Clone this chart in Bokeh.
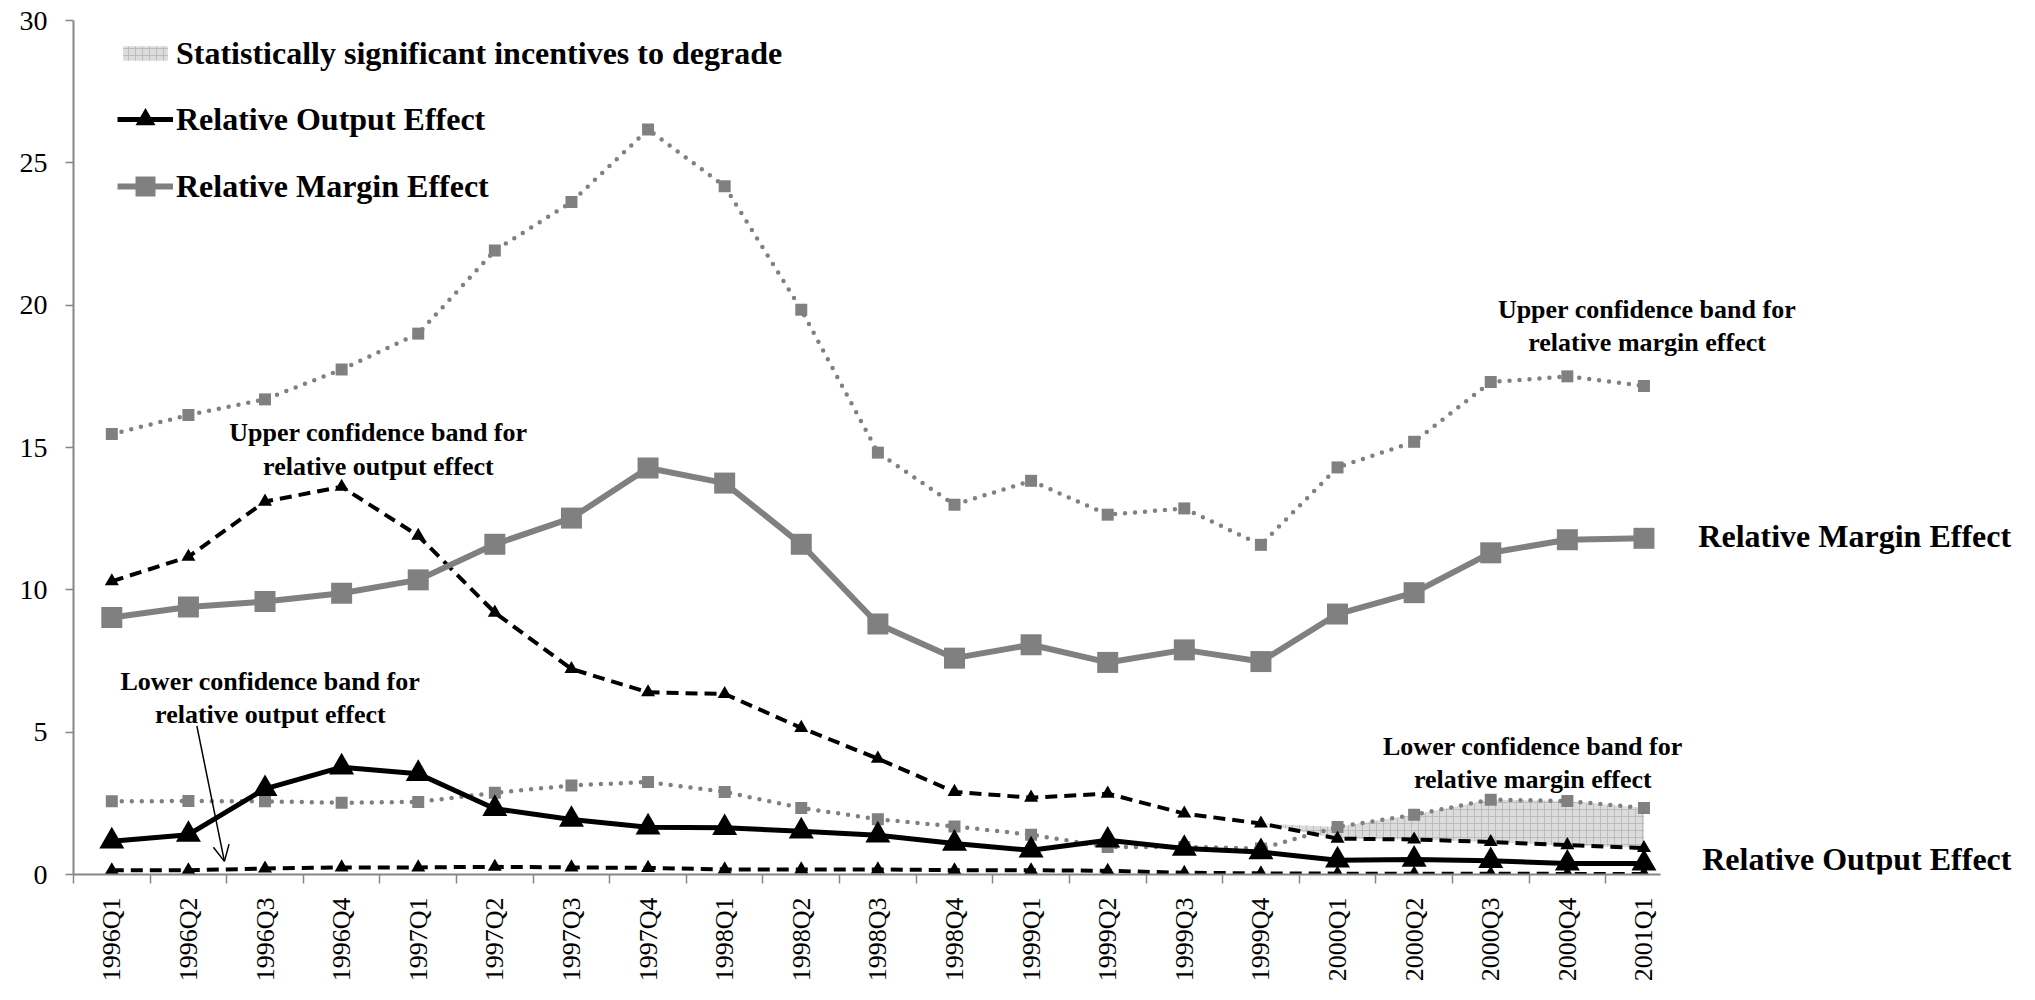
import math
from bokeh.plotting import figure
from bokeh.models import (Range1d, FixedTicker, Legend, LegendItem, Label,
                          Arrow, OpenHead)
from bokeh.embed import file_html
from bokeh.resources import INLINE

quarters = ["1996Q1", "1996Q2", "1996Q3", "1996Q4", "1997Q1", "1997Q2", "1997Q3",
            "1997Q4", "1998Q1", "1998Q2", "1998Q3", "1998Q4", "1999Q1", "1999Q2",
            "1999Q3", "1999Q4", "2000Q1", "2000Q2", "2000Q3", "2000Q4", "2001Q1"]

output_effect = [1.17, 1.40, 3.01, 3.77, 3.54, 2.31, 1.93, 1.66, 1.64, 1.52, 1.38,
                 1.09, 0.85, 1.20, 0.91, 0.79, 0.50, 0.53, 0.48, 0.39, 0.39]
margin_effect = [9.03, 9.40, 9.59, 9.88, 10.35, 11.60, 12.52, 14.28, 13.75, 11.60, 8.80,
                 7.60, 8.07, 7.45, 7.89, 7.48, 9.15, 9.90, 11.30, 11.76, 11.81]
upper_output = [10.30, 11.16, 13.10, 13.62, 11.90, 9.20, 7.22, 6.40, 6.34, 5.15, 4.07,
                2.90, 2.70, 2.84, 2.14, 1.79, 1.26, 1.23, 1.14, 1.03, 0.93]
lower_output = [0.15, 0.15, 0.21, 0.25, 0.25, 0.27, 0.25, 0.23, 0.18, 0.18, 0.18,
                0.15, 0.15, 0.13, 0.06, 0.04, 0.03, 0.03, 0.03, 0.02, 0.02]
upper_margin = [15.47, 16.14, 16.69, 17.74, 19.00, 21.92, 23.62, 26.17, 24.18, 19.84, 14.82,
                12.99, 13.83, 12.64, 12.86, 11.58, 14.30, 15.20, 17.30, 17.50, 17.16]
lower_margin = [2.57, 2.58, 2.57, 2.52, 2.55, 2.87, 3.13, 3.25, 2.90, 2.34, 1.94,
                1.69, 1.40, 0.97, 0.97, 0.91, 1.67, 2.10, 2.63, 2.58, 2.34]
y_ticks = [0, 5, 10, 15, 20, 25, 30]

GRAY = "#808080"
AXIS = "#868686"
SERIF = "Liberation Serif"

x = list(range(len(quarters)))
# significant where lower margin band lies above the upper output band
sig_top = [max(a, b) for a, b in zip(lower_margin, upper_output)]

p = figure(width=2019, height=984, output_backend="svg", toolbar_location=None,
           x_range=Range1d(-0.5, 24.85), y_range=Range1d(0, 30),
           min_border_left=73, min_border_right=4, min_border_top=20,
           min_border_bottom=108)
p.outline_line_color = None
p.xgrid.grid_line_color = None
p.ygrid.grid_line_color = None

# axes
xa = p.xaxis[0]
xa.bounds = (-0.5, 20.22)
xa.ticker = FixedTicker(ticks=x, minor_ticks=[i - 0.5 for i in range(len(quarters))])
xa.major_label_overrides = {i: q for i, q in enumerate(quarters)}
xa.major_label_orientation = math.pi / 2
xa.major_tick_line_color = None
xa.major_tick_out = 0
xa.major_tick_in = 0
xa.minor_tick_out = 9
xa.minor_tick_in = 0
xa.minor_tick_line_color = AXIS
xa.minor_tick_line_width = 1.5
xa.axis_line_color = AXIS
xa.axis_line_width = 2
xa.major_label_text_font = SERIF
xa.major_label_text_font_size = "26px"
xa.major_label_text_color = "black"
xa.major_label_standoff = 14

ya = p.yaxis[0]
ya.ticker = FixedTicker(ticks=y_ticks)
ya.minor_tick_line_color = None
ya.major_tick_out = 8
ya.major_tick_in = 0
ya.major_tick_line_color = AXIS
ya.major_tick_line_width = 1.5
ya.axis_line_color = AXIS
ya.axis_line_width = 2
ya.major_label_text_font = SERIF
ya.major_label_text_font_size = "28px"
ya.major_label_text_color = "black"
ya.major_label_standoff = 18

# shaded significance area
shade = p.varea(x=x, y1=upper_output, y2=sig_top, fill_color="#dcdcdc",
                hatch_pattern="+", hatch_color="#b0b0b0", hatch_scale=7,
                hatch_weight=0.7)

# confidence bands
p.line(x, upper_margin, line_color=GRAY, line_width=4.5, line_dash="0 10", line_cap="round")
p.scatter(x, upper_margin, marker="square", size=12, fill_color=GRAY, line_color=None)
p.line(x, lower_margin, line_color=GRAY, line_width=4.5, line_dash="0 10", line_cap="round")
p.scatter(x, lower_margin, marker="square", size=12, fill_color=GRAY, line_color=None)

p.line(x, upper_output, line_color="black", line_width=4, line_dash="12 7")
p.scatter(x, upper_output, marker="triangle", size=14, fill_color="black", line_color=None)
p.line(x, lower_output, line_color="black", line_width=4, line_dash="12 7")
p.scatter(x, lower_output, marker="triangle", size=14, fill_color="black", line_color=None)

# main effects
m_line = p.line(x, margin_effect, line_color=GRAY, line_width=6)
m_pts = p.scatter(x, margin_effect, marker="square", size=21, fill_color=GRAY, line_color=None)
o_line = p.line(x, output_effect, line_color="black", line_width=5)
o_pts = p.scatter(x, output_effect, marker="triangle", size=25, fill_color="black", line_color=None)

# legends (location = bottom-left corner, measured from the frame's bottom-left)
def style_legend(leg):
    leg.background_fill_alpha = 0
    leg.border_line_color = None
    leg.padding = 0
    leg.margin = 0
    leg.label_text_font = SERIF
    leg.label_text_font_style = "bold"
    leg.label_text_font_size = "32px"
    leg.label_text_color = "black"
    leg.glyph_width = 56
    leg.label_standoff = 3

leg1 = Legend(items=[LegendItem(label="Statistically significant incentives to degrade",
                                renderers=[shade])],
              location=(44, 802))
style_legend(leg1)
leg1.glyph_height = 18
leg1.label_height = 38

leg2 = Legend(items=[LegendItem(label="Relative Output Effect", renderers=[o_line, o_pts]),
                     LegendItem(label="Relative Margin Effect", renderers=[m_line, m_pts])],
              location=(44, 663))
style_legend(leg2)
leg2.glyph_height = 50
leg2.label_height = 50
leg2.spacing = 17

p.add_layout(leg1)
p.add_layout(leg2)

# annotations
def note(xv, yv, text, size="26px", align="center"):
    p.add_layout(Label(x=xv, y=yv, text=text, text_align=align, text_baseline="middle",
                       text_font=SERIF, text_font_style="bold", text_font_size=size,
                       text_color="black", text_line_height=1.15))

note(3.48, 14.93, "Upper confidence band for\nrelative output effect")
note(2.07, 6.2, "Lower confidence band for\nrelative output effect")
note(20.04, 19.26, "Upper confidence band for\nrelative margin effect")
note(18.55, 3.92, "Lower confidence band for\nrelative margin effect")
note(20.71, 11.9, "Relative Margin Effect", size="32px", align="left")
note(20.76, 0.53, "Relative Output Effect", size="32px", align="left")

p.add_layout(Arrow(end=OpenHead(size=16, line_width=1.5, line_color="black"),
                   x_start=1.11, y_start=5.22, x_end=1.47, y_end=0.46,
                   line_width=1.5, line_color="black"))

open("out.html", "w").write(file_html(p, INLINE))
